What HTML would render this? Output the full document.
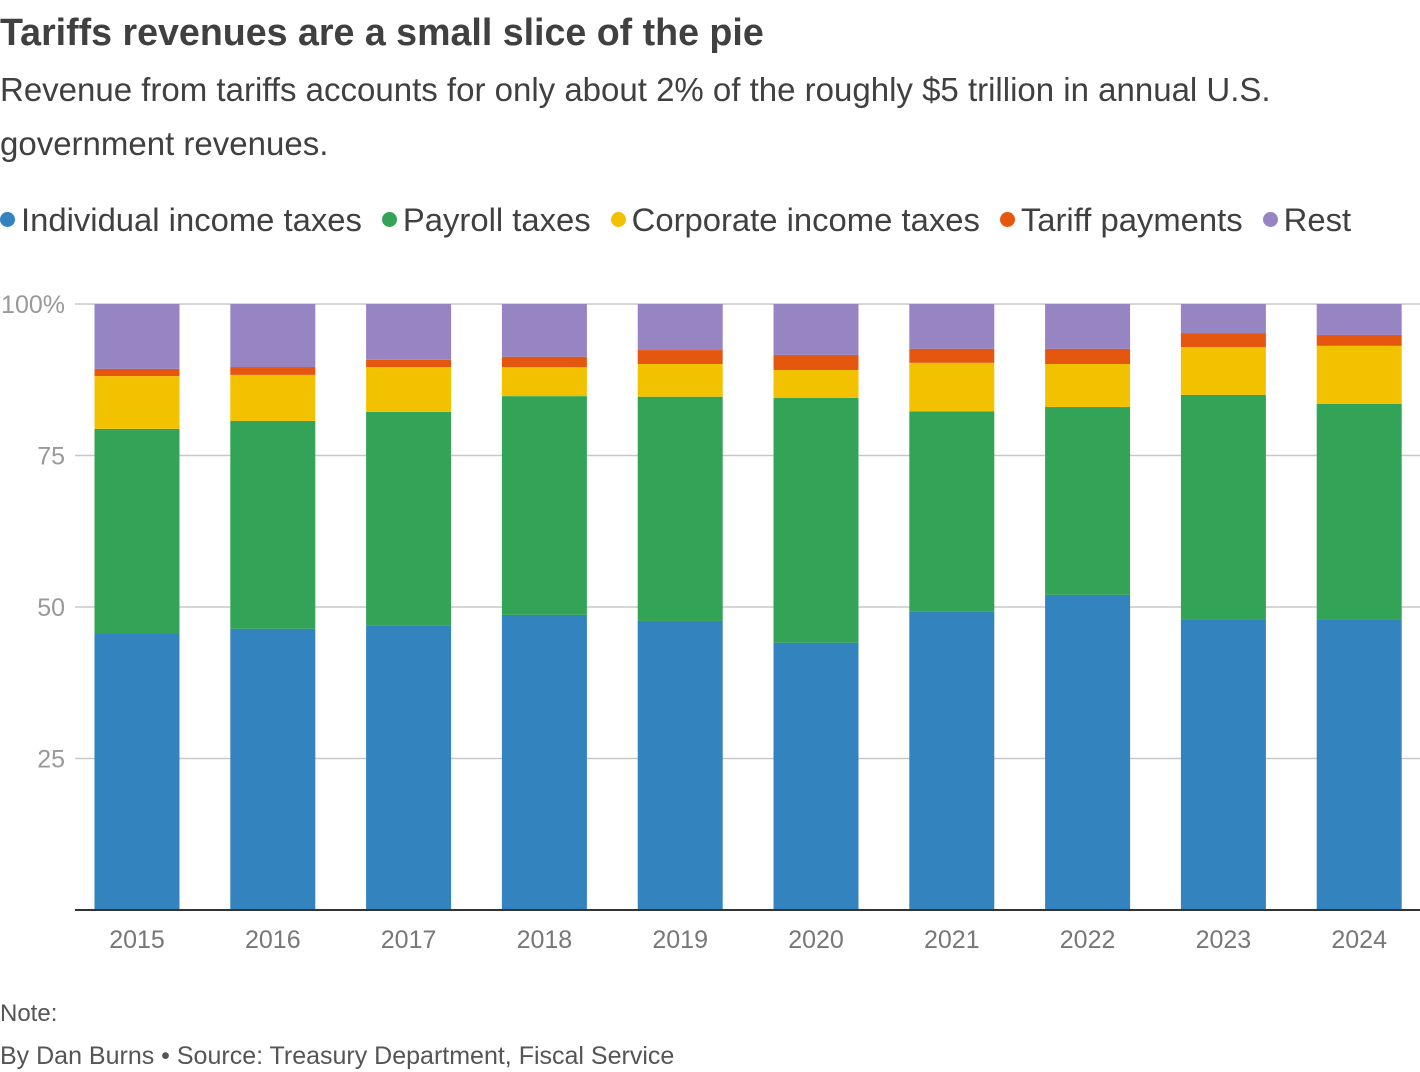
<!DOCTYPE html>
<html><head><meta charset="utf-8"><style>
body{margin:0;width:1420px;height:1072px;background:#fff;font-family:"Liberation Sans",sans-serif;overflow:hidden;position:relative}
.t{position:absolute;left:0;white-space:nowrap}
</style></head><body>
<div class="t" style="top:11px;font-size:37.6px;font-weight:bold;color:#404040;letter-spacing:0px">Tariffs revenues are a small slice of the pie</div>
<div class="t" style="top:63px;font-size:33px;color:#404040;line-height:54px;white-space:normal;width:1320px">Revenue from tariffs accounts for only about 2% of the roughly $5 trillion in annual U.S. government revenues.</div>
<div class="t" style="top:201px;font-size:32.8px;color:#404040" id="legend"></div>
<svg id="chart" width="1420" height="1000" style="position:absolute;left:0;top:0"></svg>
<div class="t" style="top:1000px;font-size:24px;color:#555">Note:</div>
<div class="t" style="top:1042px;font-size:25px;color:#555">By Dan Burns • Source: Treasury Department, Fiscal Service</div>
<script>
const years=["2015","2016","2017","2018","2019","2020","2021","2022","2023","2024"];
const individual=[45.7,46.4,47.0,48.7,47.7,44.1,49.3,52.0,48.0,48.0];
const payroll=[33.7,34.3,35.2,36.1,37.0,40.4,33.0,31.0,37.0,35.5];
const corporate=[8.7,7.6,7.4,4.8,5.4,4.6,8.0,7.1,7.9,9.6];
const tariff=[1.2,1.3,1.2,1.7,2.3,2.5,2.3,2.5,2.3,1.8];
const rest=[10.7,10.4,9.2,8.7,7.6,8.4,7.4,7.4,4.8,5.1];
const ticks=[0,25,50,75,100];
const seriesNames=["Individual income taxes","Payroll taxes","Corporate income taxes","Tariff payments","Rest"];
const seriesData=[individual,payroll,corporate,tariff,rest];
const colors=["#3283be","#33a457","#f2c200","#e5570f","#9784c2"];
const ns="http://www.w3.org/2000/svg",svg=document.getElementById('chart');
const y0=910,y100=304,x0=75,x1=1420;
const y=v=>y0-(y0-y100)*v/100;
const step=135.8, bw=85;
const xc=i=>137+step*i;
function mk(t,a){const e=document.createElementNS(ns,t);for(const k in a)e.setAttribute(k,a[k]);svg.appendChild(e);return e;}
ticks.forEach(t=>{if(t>0){const l=mk('line',{x1:x0,x2:x1,y1:y(t),y2:y(t),stroke:'#c8c8c8','stroke-width':1.5});


const tx=mk('text',{x:65,y:y(t)+9,'text-anchor':'end','font-size':25,fill:'#999','font-family':'Liberation Sans'});tx.textContent=t===100?'100%':t;

}});
years.forEach((yr,i)=>{let cum=0;seriesData.forEach((s,j)=>{const v=s[i];const r=mk('rect',{x:xc(i)-bw/2,y:y(cum+v),width:bw,height:y(cum)-y(cum+v),fill:colors[j]});


cum+=v;});
const tx=mk('text',{x:xc(i),y:948,'text-anchor':'middle','font-size':25,fill:'#777','font-family':'Liberation Sans'});tx.textContent=yr;

});
const ax=mk('line',{x1:x0,x2:x1,y1:y0,y2:y0,stroke:'#333','stroke-width':2});


const lg=document.getElementById('legend');
seriesNames.forEach((n,j)=>{const s=document.createElement('span');s.style.marginRight='20px';


s.innerHTML='<span style="display:inline-block;width:15px;height:15px;border-radius:50%;background:'+colors[j]+';margin-right:6px;vertical-align:4px"></span>'+n;lg.appendChild(s);});
</script>
</body></html>
